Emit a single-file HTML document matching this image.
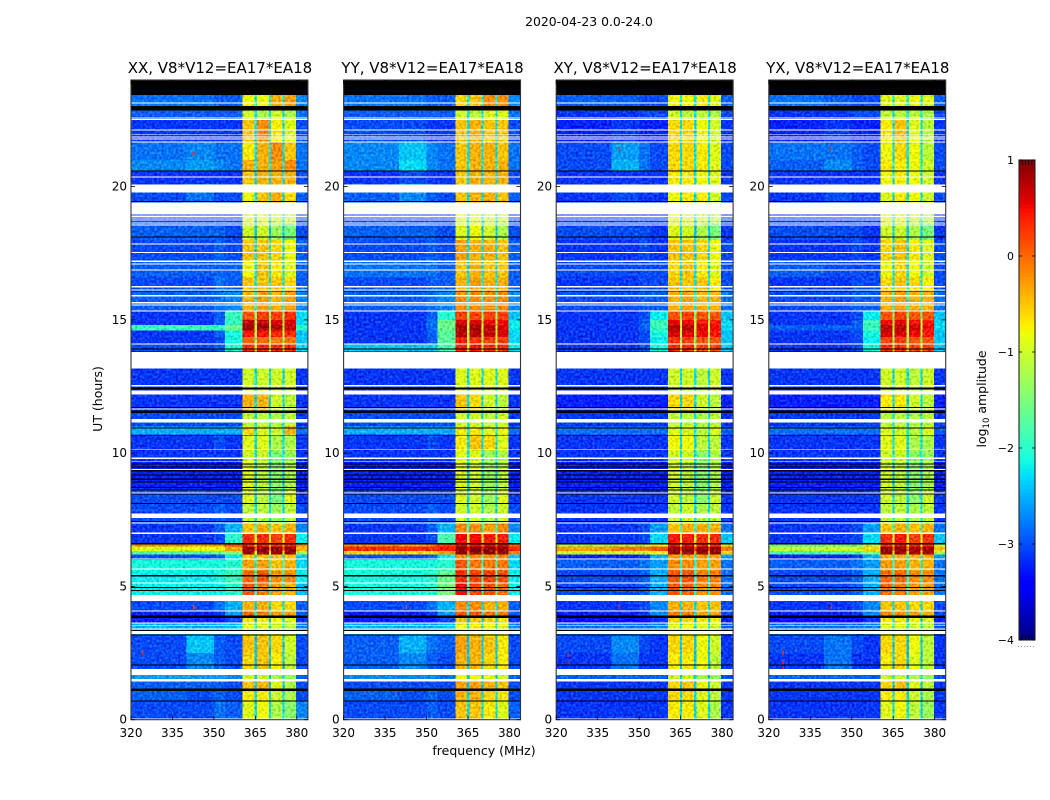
<!DOCTYPE html>
<html lang="en">
<head>
<meta charset="utf-8">
<title>2020-04-23 spectrogram</title>
<style>
html,body{margin:0;padding:0;background:#fff;}
#chart{display:block;width:1050px;height:800px;font-family:"DejaVu Sans","Liberation Sans",sans-serif;fill:#000;}
</style>
</head>
<body>
<svg id="chart" xmlns="http://www.w3.org/2000/svg" width="1050" height="800" viewBox="0 0 1050 800">
<defs>
<filter id="grain" filterUnits="objectBoundingBox" x="0" y="0" width="1" height="1" color-interpolation-filters="sRGB">
<feTurbulence type="fractalNoise" baseFrequency="0.42" numOctaves="1" seed="7" result="n"/>
<feColorMatrix in="n" type="matrix" values="0 0 0 1 0 0 0 0 1 0 0 0 0 1 0 0 0 0 0 1" result="g"/>
<feComposite in="SourceGraphic" in2="g" operator="arithmetic" k1="0" k2="1" k3="0.6" k4="-0.31"/>
</filter>
</defs>
<text x="589" y="26" font-size="12.4" text-anchor="middle">2020-04-23 0.0-24.0</text>
<text x="484" y="755" font-size="12.5" text-anchor="middle">frequency (MHz)</text>
<text x="0" y="0" font-size="12.5" text-anchor="middle" transform="translate(102 399) rotate(-90)">UT (hours)</text>
<text x="0" y="0" font-size="12.5" text-anchor="middle" transform="translate(986 399) rotate(-90)">log<tspan font-size="8.5" dy="3">10</tspan><tspan dy="-3"> amplitude</tspan></text>
<g id="panels"></g>
<g id="colorbar"></g>
</svg>
<script>
/* ---------- shared axis data ---------- */
const panelTitles = ["XX, V8*V12=EA17*EA18", "YY, V8*V12=EA17*EA18", "XY, V8*V12=EA17*EA18", "YX, V8*V12=EA17*EA18"];
const freqTicks = [320, 335, 350, 365, 380];
const hourTicks = [0, 5, 10, 15, 20];
const colorbarTicks = [1, 0, -1, -2, -3, -4];
const freqDomain = [320, 384];
const hourDomain = [0, 24];
const valueDomain = [-4, 1];

/* frequency channels: bg1,bg2,bg3,edge,A,gap,B,gap,C,gap,D,E */
const freqEdges = [320, 340, 350, 354, 360.4, 364.7, 365.5, 369.9, 370.7, 374.9, 375.6, 379.7, 384];
/* index into a row's values for each frequency channel */
const channelColumn = [0, 1, 2, 3, 4, 9, 5, 9, 6, 9, 7, 8];

/* time rows (UT hours) */
const hourEdges = [0, 0.7, 1.1, 1.45, 1.9, 2.5, 3.2, 3.6, 3.9, 4.1, 4.67, 5.1, 5.6, 6.0, 6.2, 6.33, 6.5, 6.6, 7.0, 7.4, 8.1, 8.6, 9.7, 10.1, 10.7, 11.0, 11.5, 12.2, 13.2, 13.8, 14.1, 14.35, 14.6, 14.8, 15.0, 15.35, 16.1, 16.6, 17.2, 18.0, 18.6, 19.4, 20.1, 20.6, 21.0, 21.7, 22.5, 23.0, 23.5];

/* log10 amplitude per time row: bg1,bg2,bg3,edge,A,B,C,D,E,gap */
const valuesXX = [
[-3.0,-3.0,-2.8,-2.9,-.9,-.8,-1.2,-1.4,-2.7,-2.3],
[-2.9,-3.0,-2.9,-3.0,-.7,-.7,-1.0,-1.2,-3.0,-2.3],
[-2.9,-2.9,-2.9,-3.0,-.5,-.4,-.9,-1.2,-3.0,-2.4],
[-2.6,-2.6,-2.6,-2.7,-1.0,-1.0,-1.2,-1.3,-2.9,-2.4],
[-3.0,-2.7,-2.9,-3.0,-.6,-.5,-.7,-1.1,-3.0,-2.4],
[-3.0,-2.4,-2.9,-3.0,-.5,-.5,-.6,-1.0,-3.0,-2.4],
[-2.5,-2.5,-2.5,-2.4,-.9,-.9,-1.0,-1.1,-2.7,-2.2],
[-3.2,-3.2,-3.2,-3.0,-.7,-.7,-.8,-.9,-3.1,-2.4],
[-3.2,-3.2,-3.1,-2.6,0,-.1,-.3,-.3,-2.9,-2.2],
[-3.0,-3.0,-2.8,-2.5,-.4,-.4,-.6,-.6,-2.9,-2.3],
[-2.2,-2.2,-2.2,-2.0,.1,-.1,-.3,-.4,-2.4,-2.1],
[-2.2,-2.2,-2.1,-1.9,0,.1,-.2,-.2,-2.2,-2.0],
[-2.1,-2.1,-2.1,-2.0,-.3,-.3,-.5,-.4,-2.3,-2.0],
[-3.0,-3.0,-2.9,-2.2,-.5,-.5,-.5,-.5,-2.4,-2.0],
[-1.7,-1.7,-1.6,-1.4,.9,.9,.9,.9,-1.2,-.8],
[-.9,-.8,-.8,-.3,.9,.9,.9,.9,-.4,0],
[-.2,-.3,-.2,.1,.3,.3,.3,.3,-.2,-.5],
[-3.1,-3.1,-3.0,-2.0,.3,.3,.2,.3,-2.2,-.9],
[-3.1,-3.1,-2.9,-2.5,-.5,-.4,-.5,-.4,-2.7,-1.9],
[-3.0,-3.0,-2.9,-3.0,-1.1,-1.1,-1.3,-1.1,-3.0,-2.3],
[-3.0,-3.0,-3.0,-3.0,-.9,-1.1,-1.5,-.9,-3.1,-2.3],
[-3.2,-3.2,-3.2,-3.2,-.9,-1.1,-1.4,-1.2,-3.2,-2.4],
[-3.1,-3.1,-3.1,-3.1,-1.0,-1.0,-1.5,-1.3,-3.1,-2.3],
[-3.1,-3.1,-3.0,-3.1,-.9,-.9,-1.2,-1.2,-3.1,-2.3],
[-2.5,-2.5,-2.5,-2.5,-.6,-.9,-1.0,-.4,-2.8,-2.2],
[-3.0,-3.0,-3.0,-3.0,-1.1,-1.1,-1.2,-1.1,-3.1,-2.3],
[-3.1,-3.1,-3.1,-3.1,-.4,-.4,-1.0,-1.1,-3.1,-2.3],
[-3.1,-3.1,-3.1,-3.1,-1.0,-1.0,-1.0,-1.0,-3.1,-2.3],
[-3.1,-3.1,-3.1,-3.1,-1.0,-1.0,-1.0,-1.0,-3.1,-2.3],
[-3.0,-3.0,-2.9,-2.0,.3,.3,.3,.3,-2.3,-1.0],
[-3.1,-3.1,-3.0,-2.1,0,0,-.1,-.1,-2.4,-1.4],
[-3.1,-3.1,-2.9,-2.1,.4,.4,.3,.3,-2.4,-1.2],
[-1.9,-1.9,-1.9,-1.6,.85,.85,.8,.7,-2.0,-1.0],
[-3.1,-3.1,-2.9,-1.9,.7,.7,.6,.6,-2.3,-1.2],
[-3.1,-3.1,-2.9,-1.9,.1,.2,.2,.3,-2.3,-1.4],
[-2.9,-2.9,-2.8,-2.7,-.4,-.3,-.4,-.3,-2.7,-2.2],
[-3.0,-3.0,-2.8,-2.9,-.5,-.5,-.5,-.6,-2.9,-2.2],
[-2.9,-2.9,-2.9,-2.9,-.8,-.5,-.7,-.9,-2.9,-2.3],
[-3.0,-3.0,-2.9,-3.0,-.5,-.5,-.6,-.8,-2.9,-2.3],
[-2.9,-2.9,-2.9,-3.0,-1.0,-1.0,-1.3,-1.5,-3.0,-2.4],
[-3.0,-3.0,-3.0,-3.0,-.9,-.9,-1.0,-1.0,-3.0,-2.3],
[-3.0,-2.8,-3.0,-3.0,-.8,-.5,-.4,-.6,-2.9,-2.3],
[-3.1,-3.1,-3.1,-3.1,-.5,-.4,-.4,-.4,-3.0,-2.3],
[-2.7,-2.6,-2.7,-2.8,-.4,-.4,-.3,-.2,-2.8,-2.2],
[-2.8,-2.7,-2.8,-2.8,-.7,-.4,-.2,-.5,-2.8,-2.3],
[-3.1,-3.1,-3.1,-3.1,-.5,-.2,-.7,-.9,-3.0,-2.3],
[-2.9,-2.9,-2.9,-2.9,-1.0,-1.2,-1.0,-1.2,-2.8,-2.3],
[-2.8,-2.8,-2.9,-2.9,-.8,-.8,-.4,-.3,-2.7,-2.2]
];
const valuesYY = [
[-3.0,-3.0,-2.9,-3.0,-.5,-.5,-.7,-.9,-2.9,-2.3],
[-2.9,-3.0,-2.9,-3.0,-.4,-.4,-.6,-.7,-3.0,-2.3],
[-3.0,-3.0,-3.0,-3.0,-.3,-.3,-.4,-.5,-3.0,-2.4],
[-2.7,-2.7,-2.7,-2.8,-.8,-.8,-.9,-1.0,-2.9,-2.4],
[-2.9,-2.7,-2.9,-3.0,-.4,-.4,-.6,-.7,-3.0,-2.4],
[-2.9,-2.5,-2.8,-2.9,-.3,-.4,-.5,-.7,-3.0,-2.4],
[-2.5,-2.5,-2.5,-2.4,-.8,-.7,-.8,-.9,-2.7,-2.2],
[-3.2,-3.2,-3.2,-3.0,-.5,-.5,-.6,-.7,-3.1,-2.4],
[-3.2,-3.2,-3.1,-2.6,.1,.1,-.1,-.1,-2.9,-2.2],
[-3.0,-3.0,-2.8,-2.5,-.2,-.2,-.4,-.4,-2.9,-2.3],
[-2.1,-2.1,-2.0,-1.5,.5,.2,.1,0,-2.2,-1.8],
[-2.1,-2.1,-2.0,-1.6,.3,.2,.2,.1,-2.2,-1.8],
[-2.1,-2.1,-2.1,-2.0,.1,-.1,-.1,-.1,-2.3,-1.9],
[-3.0,-3.0,-2.9,-2.2,-.2,-.2,-.2,-.2,-2.4,-1.9],
[-.6,-.6,-.6,-.3,.95,.95,.95,.95,-.2,0],
[.3,.3,.3,.4,.95,.95,.95,.95,.3,.4],
[-.2,-.3,-.1,.2,.5,.5,.5,.5,0,-.3],
[-3.1,-3.1,-3.0,-1.8,.5,.5,.4,.4,-2.2,-.9],
[-3.1,-3.1,-2.9,-2.5,-.2,-.2,-.3,-.2,-2.7,-1.9],
[-3.0,-3.0,-2.9,-3.0,-1.0,-1.0,-1.2,-1.0,-3.0,-2.3],
[-3.0,-3.0,-3.0,-3.0,-.9,-1.0,-1.3,-.9,-3.1,-2.3],
[-3.2,-3.2,-3.2,-3.2,-.9,-1.0,-1.3,-1.1,-3.2,-2.4],
[-3.1,-3.1,-3.1,-3.1,-.9,-.9,-1.3,-1.2,-3.1,-2.3],
[-3.1,-3.1,-3.0,-3.1,-.7,-.5,-.6,-.9,-3.1,-2.3],
[-2.5,-2.5,-2.5,-2.5,-.7,-.7,-.9,-.8,-2.8,-2.2],
[-3.0,-3.0,-3.0,-3.0,-1.0,-1.0,-1.1,-1.0,-3.1,-2.3],
[-3.1,-3.1,-3.1,-3.1,-.5,-.6,-1.0,-1.1,-3.1,-2.3],
[-3.1,-3.1,-3.1,-3.1,-.9,-.9,-.9,-.9,-3.1,-2.3],
[-3.1,-3.1,-3.1,-3.1,-.9,-.9,-.9,-.9,-3.1,-2.3],
[-2.4,-2.4,-2.4,-1.8,.4,.4,.3,.3,-2.2,-1.0],
[-3.1,-3.1,-2.9,-1.7,.4,.3,.2,.2,-2.3,-1.2],
[-3.1,-3.1,-2.9,-1.7,.75,.75,.7,.6,-2.3,-1.0],
[-3.1,-3.1,-2.8,-1.6,.8,.8,.75,.6,-2.2,-1.0],
[-3.1,-3.1,-2.8,-1.6,.6,.6,.5,.5,-2.2,-1.1],
[-3.1,-3.1,-2.9,-2.0,.2,.2,.2,.2,-2.4,-1.4],
[-2.9,-2.9,-2.8,-2.7,-.2,-.2,-.2,-.2,-2.7,-2.2],
[-3.0,-3.0,-2.9,-2.9,-.4,-.3,-.4,-.4,-2.9,-2.2],
[-2.8,-2.8,-2.8,-2.9,-.5,-.4,-.5,-.5,-2.9,-2.3],
[-3.0,-3.0,-2.9,-3.0,-.3,-.4,-.4,-.5,-2.9,-2.3],
[-2.9,-2.9,-2.9,-3.0,-.9,-.8,-1.0,-1.2,-3.0,-2.4],
[-3.0,-3.0,-3.0,-3.0,-.9,-.9,-1.0,-1.0,-3.0,-2.3],
[-2.9,-2.7,-2.9,-3.0,-.5,-.4,-.4,-.5,-2.9,-2.3],
[-3.1,-3.0,-3.1,-3.1,-.5,-.4,-.4,-.4,-3.0,-2.3],
[-2.7,-2.3,-2.7,-2.8,-.5,-.4,-.4,-.4,-2.8,-2.2],
[-2.7,-2.4,-2.7,-2.8,-.5,-.4,-.4,-.5,-2.8,-2.3],
[-3.0,-3.0,-3.1,-3.1,-.5,-.4,-.5,-.5,-3.0,-2.3],
[-2.9,-2.9,-2.9,-2.9,-1.0,-1.1,-.9,-.9,-2.8,-2.3],
[-2.8,-2.8,-2.9,-2.9,-.6,-.5,-.2,-.2,-2.7,-2.2]
];
const valuesXY = [
[-3.1,-3.1,-3.1,-3.1,-.7,-.7,-.9,-1.2,-3.1,-2.3],
[-3.1,-3.1,-3.1,-3.1,-.6,-.6,-.9,-1.1,-3.1,-2.3],
[-3.1,-3.1,-3.1,-3.1,-.6,-.5,-.8,-1.0,-3.1,-2.4],
[-2.9,-2.9,-2.9,-2.9,-1.0,-1.0,-1.2,-1.3,-3.0,-2.4],
[-3.1,-2.8,-3.1,-3.1,-.7,-.7,-.8,-1.1,-3.1,-2.4],
[-3.0,-2.7,-3.0,-3.1,-.6,-.6,-.8,-1.0,-3.1,-2.4],
[-2.8,-2.8,-2.8,-2.7,-.9,-.8,-.9,-1.0,-2.9,-2.2],
[-3.3,-3.3,-3.3,-3.1,-.6,-.6,-.7,-.8,-3.2,-2.4],
[-3.2,-3.2,-3.1,-2.7,-.1,-.1,-.3,-.3,-3.0,-2.2],
[-3.1,-3.1,-3.0,-2.7,-.4,-.4,-.5,-.5,-3.0,-2.3],
[-3.0,-3.0,-2.9,-2.5,.1,0,-.2,-.2,-2.8,-2.1],
[-3.0,-3.0,-2.9,-2.5,.1,.1,-.1,-.1,-2.8,-2.1],
[-2.9,-2.9,-2.8,-2.6,-.2,-.2,-.3,-.3,-2.8,-2.1],
[-3.2,-3.2,-3.1,-2.5,-.3,-.3,-.3,-.3,-2.6,-2.0],
[-1.0,-1.0,-1.0,-.7,.9,.9,.9,.9,-.6,-.3],
[-.3,-.1,-.1,.1,.9,.9,.9,.9,-.1,.2],
[-1.3,-1.2,-1.2,-.9,.4,.4,.4,.4,-1.0,-.8],
[-3.1,-3.1,-3.0,-2.3,.4,.4,.3,.3,-2.4,-1.0],
[-3.1,-3.1,-3.0,-2.6,-.5,-.4,-.4,-.4,-2.8,-1.9],
[-3.1,-3.1,-3.1,-3.1,-1.1,-1.0,-1.2,-1.1,-3.1,-2.3],
[-3.1,-3.1,-3.1,-3.1,-1.0,-1.1,-1.4,-1.0,-3.1,-2.3],
[-3.2,-3.2,-3.2,-3.2,-1.0,-1.1,-1.4,-1.2,-3.2,-2.4],
[-3.1,-3.1,-3.1,-3.1,-1.0,-1.0,-1.4,-1.2,-3.1,-2.3],
[-3.1,-3.1,-3.1,-3.1,-.8,-.8,-1.1,-1.1,-3.1,-2.3],
[-2.8,-2.8,-2.8,-2.8,-.9,-.9,-1.1,-.9,-2.9,-2.2],
[-3.1,-3.1,-3.1,-3.1,-1.1,-1.1,-1.2,-1.1,-3.1,-2.3],
[-3.2,-3.2,-3.2,-3.2,-.6,-.6,-1.0,-1.1,-3.2,-2.3],
[-3.1,-3.1,-3.1,-3.1,-1.0,-1.0,-1.1,-1.0,-3.1,-2.3],
[-3.1,-3.1,-3.1,-3.1,-1.0,-1.0,-1.1,-1.0,-3.1,-2.3],
[-3.1,-3.1,-3.0,-2.1,.3,.3,.2,.2,-2.4,-1.0],
[-3.1,-3.1,-3.0,-2.2,.3,.2,.1,.1,-2.4,-1.4],
[-3.1,-3.1,-3.0,-2.1,.6,.6,.5,.4,-2.4,-1.2],
[-3.1,-3.1,-2.9,-1.9,.75,.75,.6,.5,-2.3,-1.0],
[-3.1,-3.1,-2.9,-1.9,.55,.5,.4,.4,-2.3,-1.2],
[-3.1,-3.1,-3.0,-2.2,.1,.2,.1,.1,-2.4,-1.4],
[-3.0,-3.0,-2.9,-2.9,-.4,-.3,-.4,-.4,-2.8,-2.2],
[-3.1,-3.1,-3.0,-3.0,-.5,-.5,-.5,-.7,-3.0,-2.2],
[-3.0,-3.0,-3.0,-3.0,-.6,-.5,-.7,-.9,-3.0,-2.3],
[-3.1,-3.1,-3.0,-3.1,-.5,-.5,-.6,-.8,-3.0,-2.3],
[-3.0,-3.0,-3.0,-3.1,-.9,-1.0,-1.2,-1.5,-3.1,-2.4],
[-3.1,-3.1,-3.1,-3.1,-.9,-.9,-1.0,-1.1,-3.1,-2.3],
[-3.1,-3.0,-3.1,-3.1,-.8,-.7,-.7,-1.0,-3.0,-2.3],
[-3.1,-3.1,-3.1,-3.1,-.7,-.7,-.8,-.9,-3.1,-2.3],
[-3.0,-2.5,-2.8,-3.0,-.6,-.6,-.7,-.9,-3.0,-2.2],
[-3.0,-2.6,-2.8,-3.0,-.6,-.6,-.7,-.9,-3.0,-2.3],
[-3.2,-3.1,-3.2,-3.2,-.6,-.6,-.8,-1.0,-3.1,-2.3],
[-3.1,-3.1,-3.0,-3.0,-1.0,-1.1,-1.1,-1.2,-3.0,-2.3],
[-2.9,-2.9,-3.0,-3.0,-.8,-.8,-.7,-.9,-2.9,-2.2]
];
const valuesYX = [
[-3.1,-3.1,-3.1,-3.1,-.9,-.8,-1.1,-1.3,-3.1,-2.3],
[-3.1,-3.1,-3.1,-3.1,-.7,-.7,-1.0,-1.2,-3.1,-2.3],
[-3.1,-3.1,-3.1,-3.1,-.6,-.5,-.9,-1.1,-3.1,-2.4],
[-2.9,-2.9,-2.9,-2.9,-1.0,-1.0,-1.2,-1.3,-3.0,-2.4],
[-3.1,-2.8,-3.1,-3.1,-.7,-.6,-.9,-1.1,-3.1,-2.4],
[-3.0,-2.8,-3.0,-3.1,-.6,-.6,-.8,-1.1,-3.1,-2.4],
[-2.8,-2.8,-2.8,-2.7,-.9,-.9,-1.0,-1.1,-2.9,-2.2],
[-3.3,-3.3,-3.3,-3.1,-.7,-.7,-.8,-.9,-3.2,-2.4],
[-3.2,-3.2,-3.1,-2.7,-.2,-.2,-.3,-.4,-3.0,-2.2],
[-3.1,-3.1,-3.0,-2.7,-.5,-.5,-.6,-.6,-3.0,-2.3],
[-3.0,-3.0,-2.9,-2.5,0,-.1,-.3,-.3,-2.8,-2.1],
[-3.0,-3.0,-2.9,-2.5,0,0,-.2,-.2,-2.8,-2.1],
[-2.9,-2.9,-2.8,-2.6,-.3,-.3,-.4,-.4,-2.8,-2.1],
[-3.2,-3.2,-3.1,-2.5,-.4,-.4,-.4,-.4,-2.6,-2.0],
[-1.8,-1.8,-1.7,-1.4,.9,.9,.85,.85,-1.2,-.8],
[-1.1,-1.0,-1.0,-.6,.9,.9,.85,.85,-.5,-.1],
[-1.6,-1.6,-1.6,-1.2,.3,.4,.3,.3,-1.2,-.9],
[-3.1,-3.1,-3.0,-2.3,.3,.4,.2,.3,-2.4,-1.0],
[-3.1,-3.1,-3.0,-2.6,-.5,-.4,-.5,-.4,-2.8,-1.9],
[-3.1,-3.1,-3.1,-3.1,-1.1,-1.1,-1.2,-1.1,-3.1,-2.3],
[-3.1,-3.1,-3.1,-3.1,-1.0,-1.1,-1.4,-1.0,-3.1,-2.3],
[-3.2,-3.2,-3.2,-3.2,-1.0,-1.1,-1.4,-1.2,-3.2,-2.4],
[-3.1,-3.1,-3.1,-3.1,-1.0,-1.0,-1.4,-1.3,-3.1,-2.3],
[-3.1,-3.1,-3.1,-3.1,-.9,-.9,-1.2,-1.2,-3.1,-2.3],
[-2.8,-2.8,-2.8,-2.8,-.9,-1.0,-1.1,-.9,-2.9,-2.2],
[-3.1,-3.1,-3.1,-3.1,-1.1,-1.1,-1.2,-1.1,-3.1,-2.3],
[-3.2,-3.2,-3.2,-3.2,-.7,-.7,-1.0,-1.1,-3.2,-2.3],
[-3.1,-3.1,-3.1,-3.1,-1.0,-1.0,-1.1,-1.0,-3.1,-2.3],
[-3.1,-3.1,-3.1,-3.1,-1.0,-1.0,-1.1,-1.0,-3.1,-2.3],
[-3.1,-3.1,-3.0,-2.1,.3,.3,.2,.2,-2.4,-1.0],
[-3.1,-3.1,-3.0,-2.2,.2,.2,.1,.1,-2.4,-1.4],
[-3.1,-3.1,-3.0,-2.1,.6,.6,.5,.4,-2.4,-1.2],
[-2.9,-2.9,-2.9,-1.9,.75,.75,.65,.5,-2.3,-1.0],
[-3.1,-3.1,-2.9,-1.9,.5,.55,.45,.4,-2.3,-1.2],
[-3.1,-3.1,-3.0,-2.2,.1,.2,.1,.1,-2.4,-1.4],
[-3.0,-3.0,-2.9,-2.9,-.4,-.3,-.4,-.4,-2.8,-2.2],
[-3.1,-3.1,-3.0,-3.0,-.6,-.5,-.6,-.7,-3.0,-2.2],
[-2.9,-3.0,-3.0,-3.0,-.8,-.6,-.8,-1.0,-3.0,-2.3],
[-3.1,-3.1,-3.0,-3.1,-.6,-.5,-.7,-.9,-3.0,-2.3],
[-3.0,-3.0,-3.0,-3.1,-1.0,-1.0,-1.2,-1.5,-3.1,-2.4],
[-3.1,-3.1,-3.1,-3.1,-.9,-.9,-1.0,-1.1,-3.1,-2.3],
[-3.1,-3.0,-3.1,-3.1,-.9,-.7,-.8,-1.0,-3.0,-2.3],
[-3.1,-3.1,-3.1,-3.1,-.8,-.7,-.8,-1.0,-3.1,-2.3],
[-2.9,-2.7,-2.9,-3.0,-.7,-.7,-.8,-1.0,-3.0,-2.2],
[-2.8,-2.8,-2.9,-3.0,-.8,-.6,-.8,-1.1,-3.0,-2.3],
[-3.2,-3.1,-3.2,-3.2,-.7,-.5,-.9,-1.1,-3.1,-2.3],
[-3.1,-3.1,-3.0,-3.0,-1.1,-1.1,-1.1,-1.2,-3.0,-2.3],
[-2.8,-2.9,-3.0,-3.0,-.9,-.9,-.8,-.9,-2.9,-2.2]
];
const panelValues = [valuesXX, valuesYY, valuesXY, valuesYX];

/* isolated bright samples: panel index, MHz, UT hour, log10 amplitude */
const spikes = [
[0,342.5,21.3,.3],[0,342.5,4.3,.2],[0,324,2.6,.3],
[1,342.5,4.3,.1],
[2,342.5,21.5,.4],[2,342.5,4.3,.3],[2,324,2.2,.4],[2,324,2.5,.3],
[3,342.5,21.5,.3],[3,342.5,4.3,.3],[3,325,2.2,.4],[3,325,2.0,.4],[3,325,2.6,.3]
];

/* flagged time ranges (UT hours): [from, to] */
const blackFlags = [[23.5,24],[23.44,23.5],[22.85,23.03],[20.57,20.6],[19.43,19.46],[18.09,18.13],[16.06,16.09],[13.89,13.93],[13.79,13.82],[12.38,12.47],[11.7,11.74],[11.5,11.6],[10.93,10.97],[10.66,10.69],[9.58,9.62],[9.46,9.5],[9.32,9.36],[9.17,9.2],[9.0,9.04],[8.89,8.93],[8.69,8.73],[8.6,8.64],[8.44,8.48],[8.09,8.13],[7.42,7.46],[6.58,6.62],[5.38,5.42],[4.94,4.98],[4.83,4.87],[3.81,3.9],[3.32,3.36],[3.16,3.19],[2.04,2.08],[1.08,1.17],[0.68,0.72]];
const whiteFlags = [[23.12,23.16],[22.56,22.6],[22.5,22.53],[22.1,22.15],[21.95,21.98],[21.84,21.88],[21.77,21.8],[21.66,21.7],[20.34,20.38],[19.78,20.08],[18.98,19.4],[18.92,18.95],[18.86,18.89],[18.8,18.84],[18.73,18.77],[18.62,18.65],[18.54,18.58],[17.83,17.87],[17.51,17.54],[17.18,17.22],[17.08,17.12],[16.85,16.89],[16.22,16.27],[16.1,16.14],[15.88,15.94],[15.62,15.67],[15.54,15.58],[15.32,15.35],[14.08,14.12],[13.18,13.79],[12.5,12.56],[12.2,12.36],[11.64,11.68],[11.15,11.28],[10.11,10.14],[9.79,9.83],[9.66,9.69],[9.37,9.4],[8.49,8.53],[7.56,7.73],[7.36,7.39],[6.97,7.02],[6.01,6.05],[5.63,5.67],[5.11,5.14],[4.45,4.67],[4.06,4.1],[3.61,3.64],[3.51,3.54],[3.39,3.43],[3.21,3.32],[1.67,1.9],[1.43,1.52],[0,0.04]];

/* ---------- layout + scales ---------- */
const NS = "http://www.w3.org/2000/svg";
const plotTop = 80, plotBottom = 719.7, plotWidth = 176.9, panelStep = 212.6, firstLeft = 131;
const barLeft = 1019, barRight = 1035, barTop = 160, barBottom = 640;

function xScale(freq, left) { return left + (freq - freqDomain[0]) / (freqDomain[1] - freqDomain[0]) * plotWidth; }
function yScale(hour) { return plotBottom - (hour - hourDomain[0]) / (hourDomain[1] - hourDomain[0]) * (plotBottom - plotTop); }
function barY(v) { return barBottom - (v - valueDomain[0]) / (valueDomain[1] - valueDomain[0]) * (barBottom - barTop); }

function ramp(t, pts) {
  for (let i = 1; i < pts.length; i++) {
    if (t <= pts[i][0]) {
      const a = pts[i - 1], b = pts[i];
      return a[1] + (b[1] - a[1]) * (t - a[0]) / (b[0] - a[0]);
    }
  }
  return pts[pts.length - 1][1];
}
const jetR = [[0,0],[.35,0],[.66,1],[.89,1],[1,.5]];
const jetG = [[0,0],[.125,0],[.375,1],[.64,1],[.91,0],[1,0]];
const jetB = [[0,.5],[.11,1],[.34,1],[.65,0],[1,0]];
function colorOf(v) {
  const t = Math.max(0, Math.min(1, (v - valueDomain[0]) / (valueDomain[1] - valueDomain[0])));
  return "rgb(" + Math.round(ramp(t, jetR) * 255) + "," + Math.round(ramp(t, jetG) * 255) + "," + Math.round(ramp(t, jetB) * 255) + ")";
}
function make(tag, attrs, parent) {
  const el = document.createElementNS(NS, tag);
  for (const k in attrs) el.setAttribute(k, attrs[k]);
  parent.appendChild(el);
  return el;
}
function tickText(v) { return v < 0 ? "\u2212" + Math.abs(v) : String(v); }

/* ---------- panels ---------- */
const panelsRoot = document.getElementById("panels");
panelTitles.forEach(function (title, p) {
  const left = firstLeft + p * panelStep;
  const right = left + plotWidth;
  const panel = make("g", {}, panelsRoot);
  
  

  const heat = make("g", { "shape-rendering": "crispEdges", filter: "url(#grain)" }, panel);
  
  
  panelValues[p].forEach(function (row, r) {
    const y0 = yScale(hourEdges[r + 1]);
    const y1 = yScale(hourEdges[r]);
    channelColumn.forEach(function (col, c) {
      const x0 = xScale(freqEdges[c], left);
      const x1 = xScale(freqEdges[c + 1], left);
      const cell = make("rect", { x: x0, y: y0, width: x1 - x0, height: y1 - y0, fill: colorOf(row[col]) }, heat);
      
      
    });
  });

  const marks = make("g", { "shape-rendering": "crispEdges" }, panel);
  
  
  spikes.filter(function (s) { return s[0] === p; }).forEach(function (s) {
    const dot = make("rect", { x: xScale(s[1], left), y: yScale(s[2]), width: 1.2, height: 4, fill: colorOf(s[3]) }, marks);
    
    
  });
  whiteFlags.forEach(function (f) {
    const band = make("rect", { x: left, y: yScale(f[1]), width: plotWidth, height: yScale(f[0]) - yScale(f[1]), fill: "#fff" }, marks);
    
    
  });
  blackFlags.forEach(function (f) {
    const band = make("rect", { x: left, y: yScale(f[1]), width: plotWidth, height: yScale(f[0]) - yScale(f[1]), fill: "#000" }, marks);
    
    
  });

  const frame = make("rect", { x: left, y: plotTop, width: plotWidth, height: plotBottom - plotTop, fill: "none", stroke: "#333", "stroke-width": 1.1 }, panel);
  
  

  const titleEl = make("text", { x: left + plotWidth / 2 + 0.5, y: 73, "font-size": 15, "text-anchor": "middle" }, panel);
  
  
  titleEl.textContent = title;

  freqTicks.forEach(function (f) {
    const x = xScale(f, left);
    const tb = make("line", { x1: x, x2: x, y1: plotBottom, y2: plotBottom - 4, stroke: "#000", "stroke-width": 0.8 }, panel);
    
    
    const tt = make("line", { x1: x, x2: x, y1: plotTop, y2: plotTop + 4, stroke: "#000", "stroke-width": 0.8 }, panel);
    
    
    const lab = make("text", { x: x, y: 737, "font-size": 12, "text-anchor": "middle" }, panel);
    
    
    lab.textContent = f;
  });
  hourTicks.forEach(function (h) {
    const y = yScale(h);
    const tl = make("line", { x1: left, x2: left + 4, y1: y, y2: y, stroke: "#000", "stroke-width": 0.8 }, panel);
    
    
    const tr = make("line", { x1: right, x2: right - 4, y1: y, y2: y, stroke: "#000", "stroke-width": 0.8 }, panel);
    
    
    const lab = make("text", { x: left - 4, y: y + 4, "font-size": 12, "text-anchor": "end" }, panel);
    
    
    lab.textContent = h;
  });
});

/* ---------- colorbar ---------- */
const barRoot = document.getElementById("colorbar");
const barSteps = 120;
for (let i = 0; i < barSteps; i++) {
  const v0 = valueDomain[0] + (valueDomain[1] - valueDomain[0]) * i / barSteps;
  const v1 = valueDomain[0] + (valueDomain[1] - valueDomain[0]) * (i + 1) / barSteps;
  const seg = make("rect", { x: barLeft, y: barY(v1), width: barRight - barLeft, height: barY(v0) - barY(v1) + 0.5, fill: colorOf((v0 + v1) / 2), "shape-rendering": "crispEdges" }, barRoot);
  
  
}
const barFrame = make("rect", { x: barLeft, y: barTop, width: barRight - barLeft, height: barBottom - barTop, fill: "none", stroke: "#222", "stroke-width": 1.1 }, barRoot);


colorbarTicks.forEach(function (v) {
  const y = barY(v);
  const lab = make("text", { x: barLeft - 5, y: y + 4, "font-size": 11, "text-anchor": "end" }, barRoot);
  
  
  lab.textContent = tickText(v);
  const l = make("line", { x1: barLeft, x2: barLeft + 3, y1: y, y2: y, stroke: "#000", "stroke-width": 0.8 }, barRoot);
  
  
  const r = make("line", { x1: barRight, x2: barRight - 3, y1: y, y2: y, stroke: "#000", "stroke-width": 0.8 }, barRoot);
  
  
});
/* minor ticks at the ends and dotted offset row beneath */
[barTop, barBottom].forEach(function (edge) {
  const dir = edge === barTop ? 1 : -1;
  for (let i = 1; i < 5; i++) {
    const x = barLeft + (barRight - barLeft) * i / 5;
    const m = make("line", { x1: x, x2: x, y1: edge, y2: edge + dir * 5, stroke: "#000", "stroke-width": 0.8 }, barRoot);
    
    
  }
});
const dots = make("line", { x1: barLeft - 1, x2: barRight, y1: 646.5, y2: 646.5, stroke: "#999", "stroke-width": 1, "stroke-dasharray": "1 2" }, barRoot);


</script>
</body>
</html>
